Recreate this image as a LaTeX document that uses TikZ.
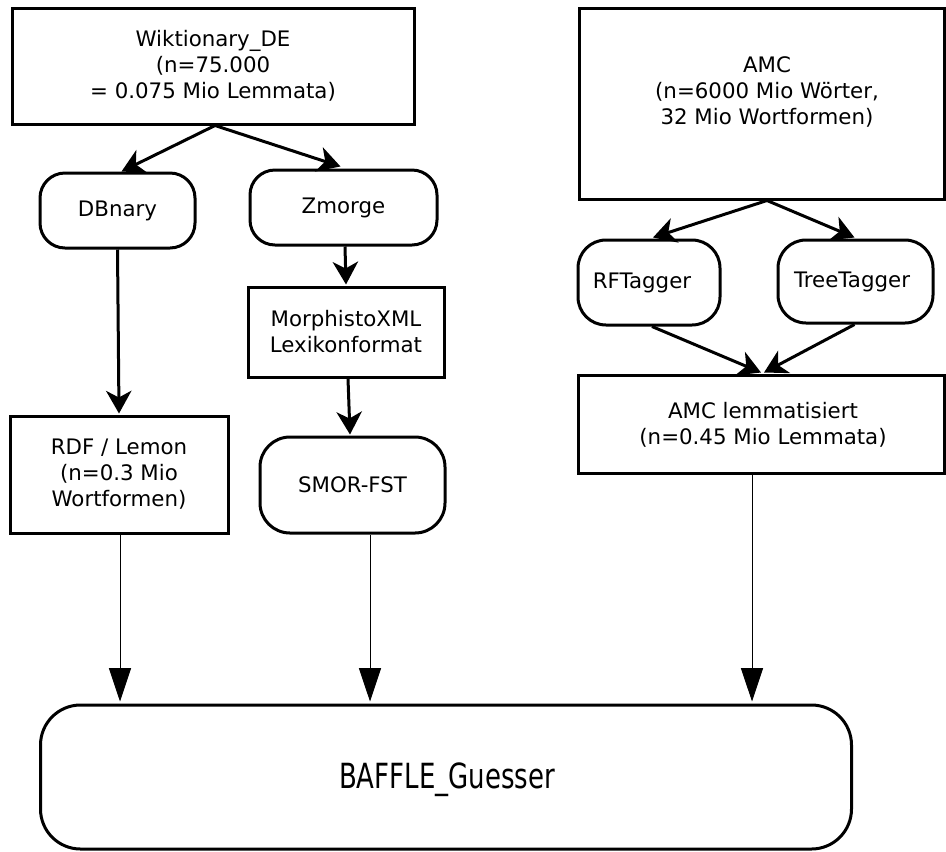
\documentclass[tikz,border=0pt]{standalone}
\usepackage{fontspec}
\setmainfont{DejaVu Sans}
\usetikzlibrary{arrows.meta,calc}
\begin{document}
\begin{tikzpicture}[x=0.75pt,y=-0.75pt,
  txt/.style={font=\fontsize{16pt}{19.5pt}\selectfont, align=center},
  box/.style={draw, line width=2.25pt, inner sep=0pt, txt},
  rbox/.style={box, rounded corners=#1},
  tarrow/.style={line width=2.25pt, -{Stealth[length=17pt,width=19pt,inset=5pt]}},
  farrow/.style={line width=0.75pt, -{Triangle[length=25pt,width=16.5pt]}}]
\useasboundingbox (0,0) rectangle (946,851);
% left branch
\node[box, minimum width=301.5pt, minimum height=87pt] (wik) at (213,66)
  {Wiktionary\_DE\\(n=75.000\\= 0.075 Mio Lemmata)};
\node[rbox=18.75pt, minimum width=116.25pt, minimum height=56.25pt] (dbn) at (117.5,210.5) {DBnary};
\node[rbox=18.75pt, minimum width=140.25pt, minimum height=56.25pt] (zmo) at (343.5,207.5) {Zmorge};
\node[box, minimum width=147pt, minimum height=67.5pt] (mor) at (346,332) {MorphistoXML\\Lexikonformat};
\node[rbox=22.5pt, minimum width=138.75pt, minimum height=72pt] (smo) at (352.5,485) {SMOR-FST};
\node[box, minimum width=163.5pt, minimum height=87.75pt] (rdf) at (119,474.5) {RDF / Lemon\\(n=0.3 Mio\\Wortformen)};
% right branch
\node[box, minimum width=273.75pt, minimum height=143.25pt] (amc) at (761.5,103.5) {};
\node[txt, inner sep=0pt] (amct) at (767,92) {AMC\\(n=6000 Mio Wörter,\\32 Mio Wortformen)};
\node[rbox=21pt, minimum width=106.5pt, minimum height=63.75pt] (rft) at (649,282.5) {};
\node[txt, inner sep=0pt] (rftt) at (642,283) {RFTagger};
\node[rbox=21pt, minimum width=116.25pt, minimum height=62.25pt] (tre) at (855.5,281.5) {};
\node[txt, inner sep=0pt] (tret) at (852,282) {TreeTagger};
\node[box, minimum width=274.5pt, minimum height=73.5pt] (lem) at (761,424) {};
\node[txt, inner sep=0pt] (lemt) at (763,425) {AMC lemmatisiert\\(n=0.45 Mio Lemmata)};
% bottom
\node[rbox=30pt, minimum width=608.25pt, minimum height=108pt] (baf) at (446,777) {};
\node[inner sep=0pt] (baft) at (447,780) {\fontsize{26pt}{28pt}\selectfont\scalebox{0.75}[1]{BAFFLE\_Guesser}};
% thick arrows
\draw[tarrow] ($(wik.south)+(2,0)$) -- ($(dbn.north)+(4,0)$);
\draw[tarrow] ($(wik.south)+(2,0)$) -- ($(zmo.north)+(-3,-2)$);
\draw[tarrow] (dbn.south) -- ($(rdf.north)+(0,-1)$);
\draw[tarrow] ($(zmo.south)+(1.5,0)$) -- ($(mor.north)+(0,-1)$);
\draw[tarrow] ($(mor.south)+(2,0)$) -- ($(smo.north)+(-2.5,-1)$);
\draw[tarrow] ($(amc.south)+(5.5,0)$) -- ($(rft.north)+(4,-1)$);
\draw[tarrow] ($(amc.south)+(5.5,0)$) -- ($(tre.north)+(-1,-1)$);
\draw[tarrow] ($(rft.south)+(3,0)$) -- ($(lem.north)+(0,-1)$);
\draw[tarrow] ($(tre.south)+(-1,0)$) -- ($(lem.north)+(3,-1)$);
% thin arrows
\draw[farrow] ($(rdf.south)+(1,0)$) -- ($(baf.north)+(-326,-2)$);
\draw[farrow] ($(smo.south)+(17.5,0)$) -- ($(baf.north)+(-76,-2)$);
\draw[farrow] ($(lem.south)+(-9,0)$) -- ($(baf.north)+(306,-2)$);
\end{tikzpicture}
\end{document}
